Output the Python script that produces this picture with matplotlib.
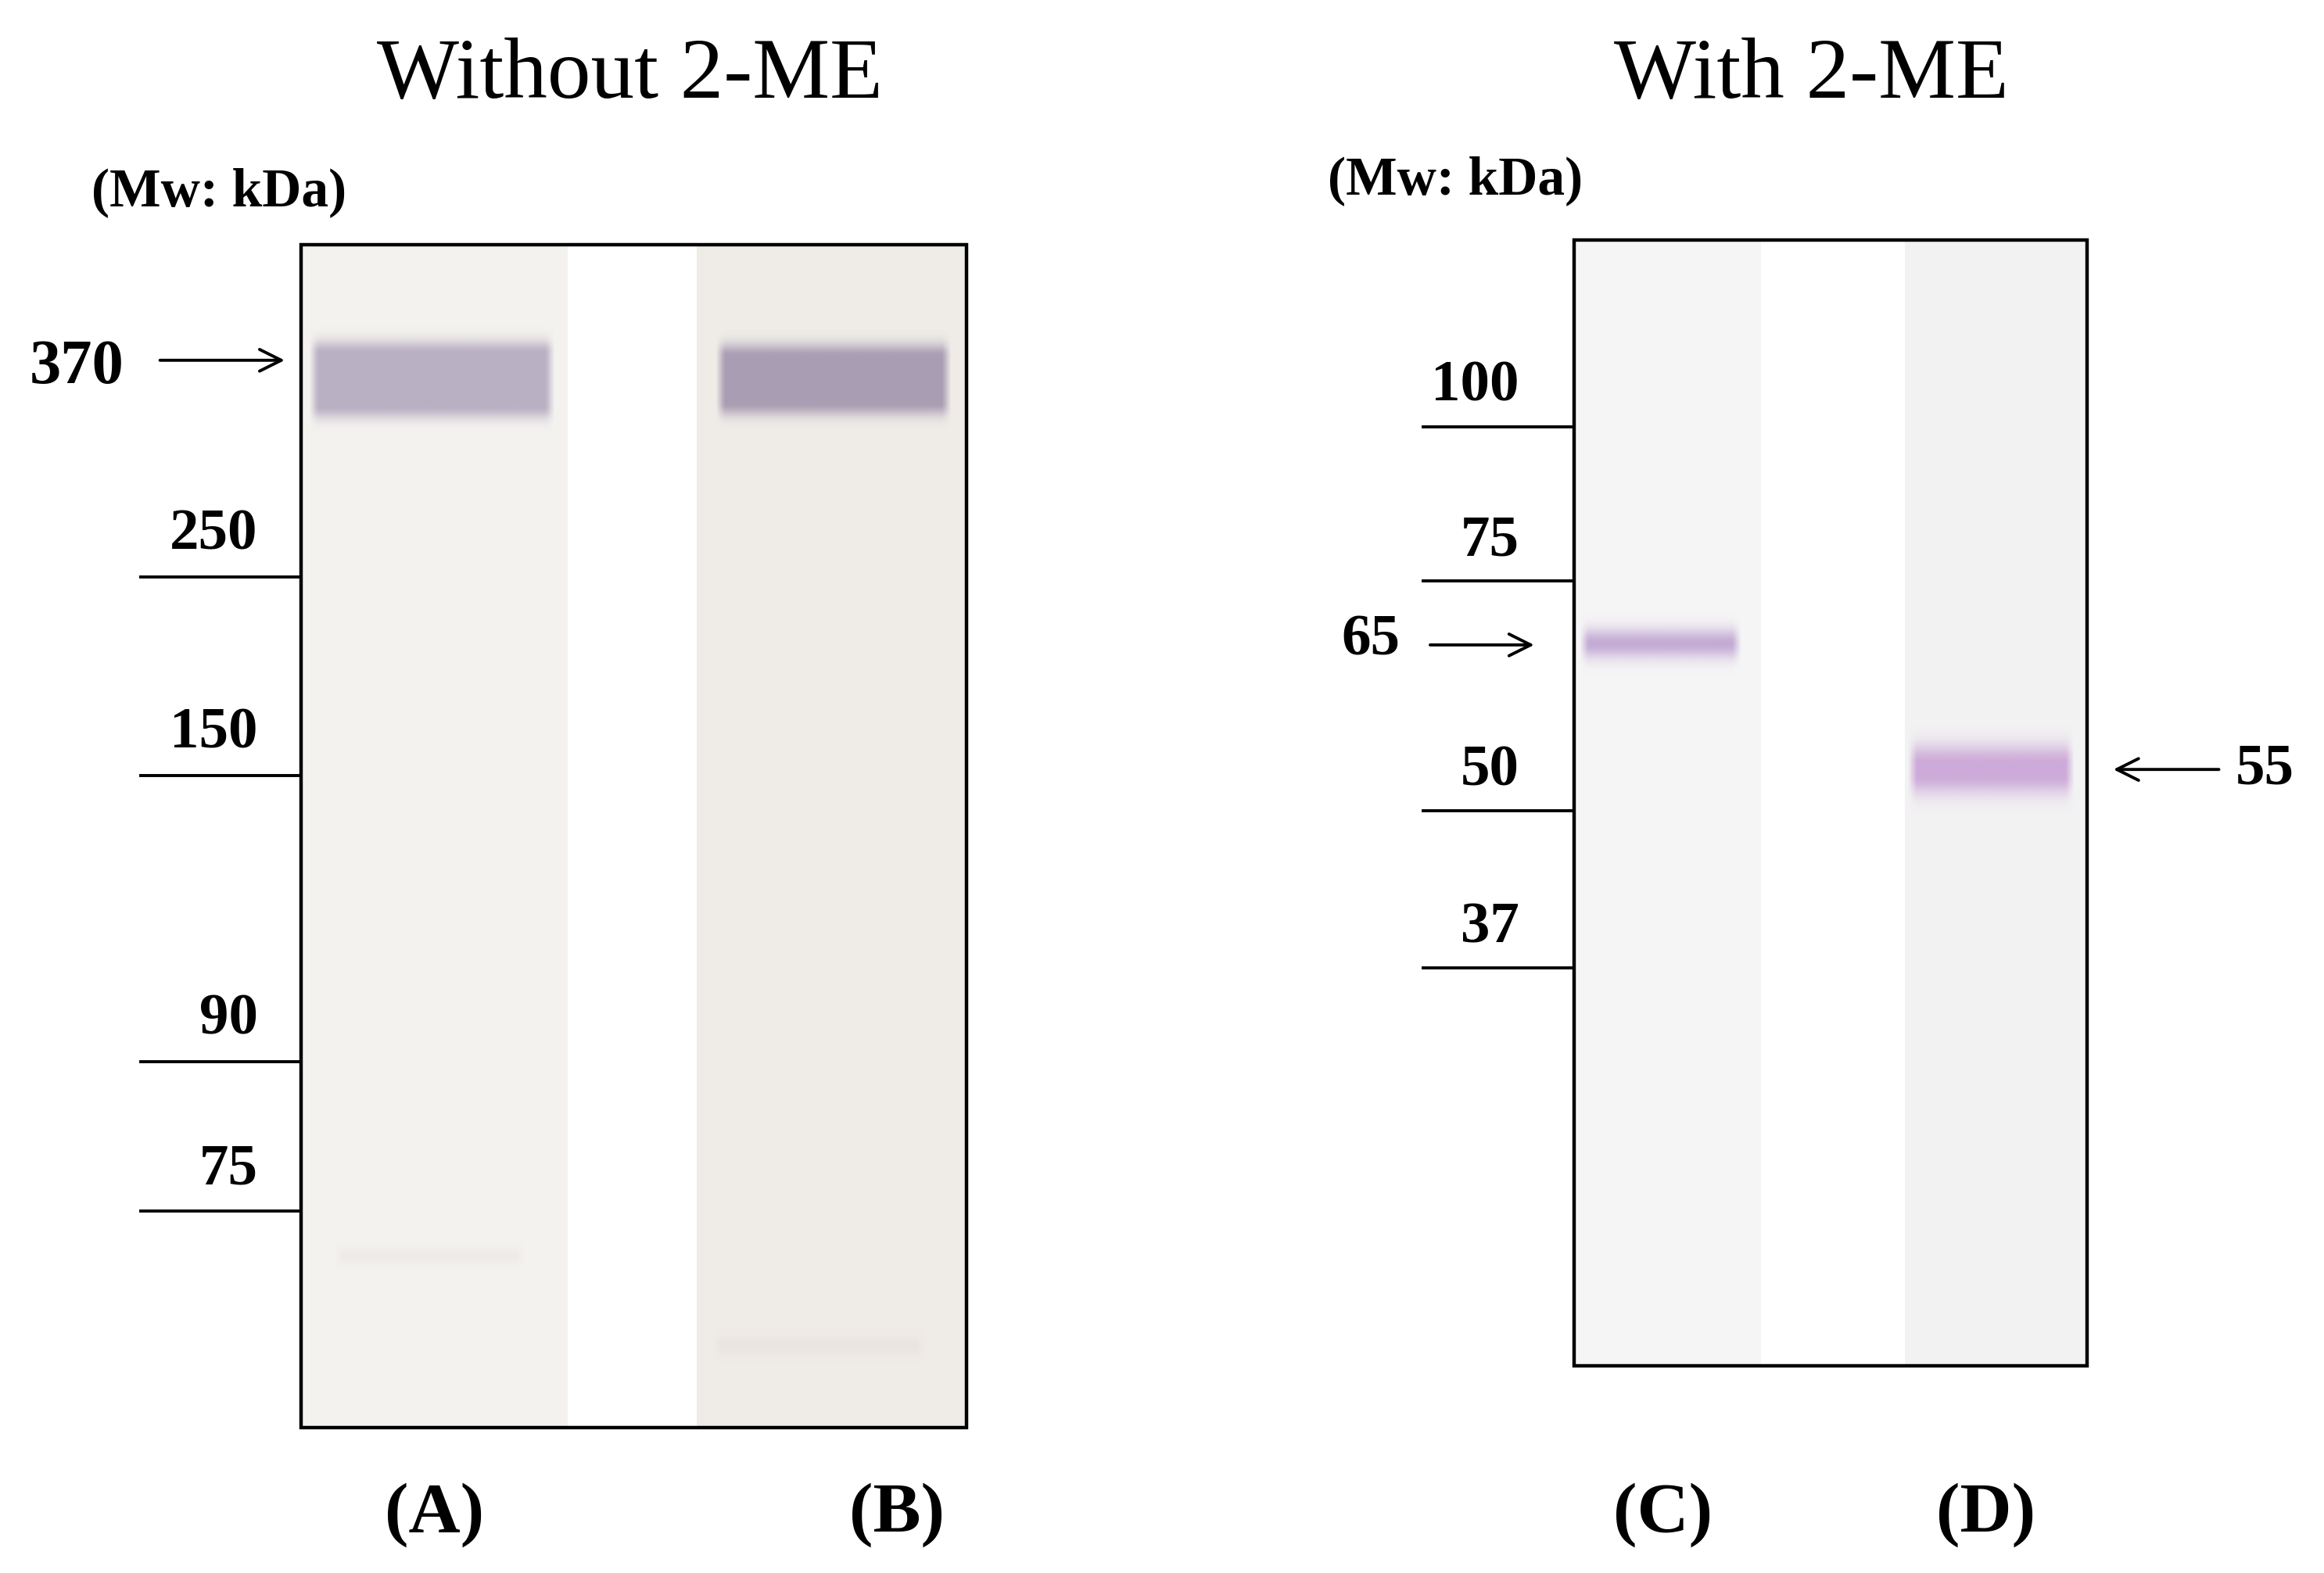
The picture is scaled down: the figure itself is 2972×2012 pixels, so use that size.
import numpy as np
import matplotlib
matplotlib.use("Agg")
import matplotlib.pyplot as plt
from matplotlib.patches import Rectangle

W, H = 1568, 1061
titles = ["Without 2-ME", "With 2-ME"]
left_markers = ["250", "150", "90", "75"]
left_marker_y = [389, 523, 716, 817]
right_markers = ["100", "75", "50", "37"]
right_marker_y = [288, 392, 547, 653]
lanes = ["(A)", "(B)", "(C)", "(D)"]
lane_x = [293, 605, 1122, 1340]

fig = plt.figure(figsize=(14.86, 10.06), dpi=200)
ax = fig.add_axes([0, 0, 1, 1])
ax.set_xlim(0, W); ax.set_ylim(H, 0); ax.axis("off")
serif = "Liberation Serif"

def band(x0, x1, yc, sig, color, amp, ext=3, flat=0):
    ys = np.linspace(yc - flat - ext*sig, yc + flat + ext*sig, 80)
    xs = np.linspace(x0, x1, 100)
    d = np.maximum(np.abs(ys-yc) - flat, 0)
    prof = amp*np.exp(-0.5*(d/sig)**2)
    edge = np.clip(np.minimum(xs-x0, x1-xs)/6, 0, 1)
    a = prof[:, None]*edge[None, :]
    img = np.zeros((80, 100, 4))
    img[..., :3] = matplotlib.colors.to_rgb(color)
    img[..., 3] = a
    ax.imshow(img, extent=[x0, x1, ys[-1], ys[0]], aspect="auto", zorder=3, interpolation="bilinear")

# left panel
ax.add_patch(Rectangle((203, 165), 180, 798, fc="#f4f2ef", ec="none", zorder=1))
ax.add_patch(Rectangle((470, 165), 182, 798, fc="#efece8", ec="none", zorder=1))
ax.add_patch(Rectangle((203, 165), 449, 798, fc="none", ec="black", lw=1.6, zorder=5))
band(208, 375, 256, 6, "#8a7aa0", 0.55, flat=18)
band(482, 642, 256, 6, "#7a6a90", 0.6, flat=16)
band(225, 355, 847, 4, "#c0b0b0", 0.12)
band(480, 625, 908, 5, "#d0b0b8", 0.12)
# right panel
ax.add_patch(Rectangle((1062, 162), 126, 759, fc="#f6f5f6", ec="none", zorder=1))
ax.add_patch(Rectangle((1285, 162), 123, 759, fc="#f3f2f3", ec="none", zorder=1))
ax.add_patch(Rectangle((1062, 162), 346, 759, fc="none", ec="black", lw=1.6, zorder=5))
band(1065, 1175, 434, 7, "#a37ac0", 0.6)
band(1287, 1400, 519, 9, "#b37ac8", 0.6, flat=4)

for t, x in zip(titles, [425, 1222]):
    ax.text(x, 52, t, ha="center", va="center", family=serif, fontsize=40)
ax.text(148, 130, "(Mw: kDa)", ha="center", va="center", family=serif, fontsize=25, weight="bold")
ax.text(982, 122, "(Mw: kDa)", ha="center", va="center", family=serif, fontsize=25, weight="bold")

for lab, y in zip(left_markers, left_marker_y):
    ax.plot([95, 203], [y, y], color="black", lw=1.4)
    ax.text(174, y - 28, lab, ha="right", va="center", family=serif, fontsize=27, weight="bold")
for lab, y in zip(right_markers, right_marker_y):
    ax.plot([960, 1060], [y, y], color="black", lw=1.4)
    ax.text(1025, y - 27, lab, ha="right", va="center", family=serif, fontsize=27, weight="bold")

ax.annotate("", xy=(195, 243), xytext=(105, 243), arrowprops=dict(arrowstyle="->", lw=1.4, mutation_scale=25))
ax.text(52, 248, "370", ha="center", va="center", family=serif, fontsize=29, weight="bold")
ax.annotate("", xy=(1038, 435), xytext=(962, 435), arrowprops=dict(arrowstyle="->", lw=1.4, mutation_scale=25))
ax.text(925, 432, "65", ha="center", va="center", family=serif, fontsize=27, weight="bold")
ax.annotate("", xy=(1423, 519), xytext=(1500, 519), arrowprops=dict(arrowstyle="->", lw=1.4, mutation_scale=25))
ax.text(1528, 519, "55", ha="center", va="center", family=serif, fontsize=27, weight="bold")

for lab, x in zip(lanes, lane_x):
    ax.text(x, 1022, lab, ha="center", va="center", family=serif, fontsize=33, weight="bold")

fig.savefig("out.png", dpi=200)
